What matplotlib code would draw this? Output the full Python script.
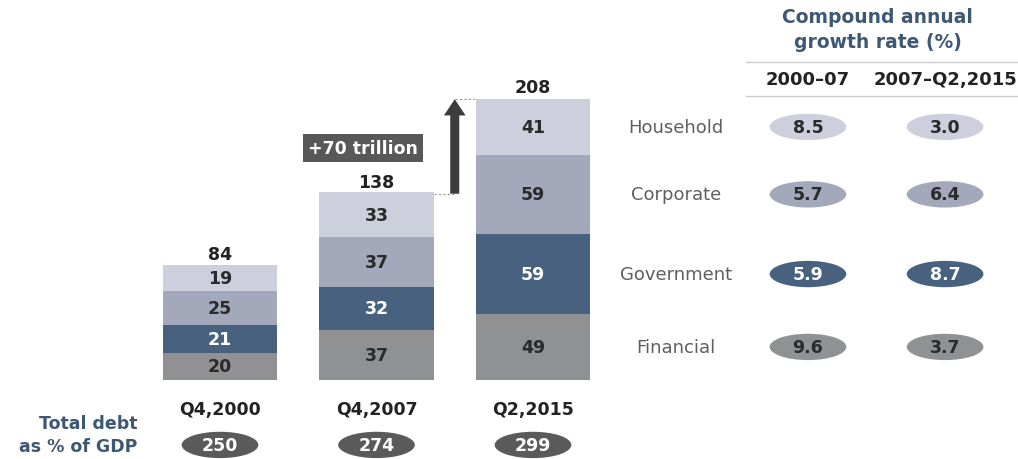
import matplotlib.pyplot as plt
from matplotlib.patches import Ellipse

plt.rcParams['font.family'] = ['DejaVu Sans']

# debt stock by sector, $ trillion
periods = ['Q4,2000', 'Q4,2007', 'Q2,2015']
sectors = ['Financial', 'Government', 'Corporate', 'Household']
financial = [20, 37, 49]
government = [21, 32, 59]
corporate = [25, 37, 59]
household = [19, 33, 41]
totals = [84, 138, 208]
debt_to_gdp = [250, 274, 299]

# compound annual growth rate (%), by sector
cagr_periods = ['2000\u201307', '2007\u2013Q2,2015']
cagr_household = [8.5, 3.0]
cagr_corporate = [5.7, 6.4]
cagr_government = [5.9, 8.7]
cagr_financial = [9.6, 3.7]

increase_label = '+70 trillion'

colors = {
    'Financial': '#8f9193',
    'Government': '#48617f',
    'Corporate': '#a3a9bb',
    'Household': '#cdd0dc',
}
text_colors = {
    'Financial': '#2a2a2a',
    'Government': 'white',
    'Corporate': '#2a2a2a',
    'Household': '#2a2a2a',
}
title_blue = '#3e5874'

fig = plt.figure(figsize=(10.18, 4.6), dpi=100)
ax = fig.add_axes([0, 0, 1, 1])
# one x unit = one bar slot (156.5 px), one y unit = 1.35 px
ax.set_xlim(-220 / 156.5, (1018 - 220) / 156.5)
ax.set_ylim(-79 / 1.35, 381 / 1.35)
ax.axis('off')

series = {'Financial': financial, 'Government': government,
          'Corporate': corporate, 'Household': household}
x = list(range(len(periods)))
bar_w = 0.73
bottoms = [0] * len(periods)
seg_centers = {}
for s in sectors:
    vals = series[s]
    ax.bar(x, vals, bottom=bottoms, width=bar_w, color=colors[s], linewidth=0)
    for i, v in enumerate(vals):
        ax.text(i, bottoms[i] + v / 2, str(v), ha='center', va='center',
                fontsize=12.5, fontweight='bold', color=text_colors[s])
    seg_centers[s] = bottoms[-1] + vals[-1] / 2
    bottoms = [b + v for b, v in zip(bottoms, vals)]

for i, t in enumerate(totals):
    ax.text(i, t + 9, str(t), ha='center', va='center', fontsize=12.5,
            fontweight='bold', color='#222222')

# increase arrow between the last two bars
ax_x = 1.5
ax.plot([1 + bar_w / 2, ax_x], [totals[1], totals[1]], color='#999999',
        lw=0.8, ls=(0, (2, 2)))
ax.plot([ax_x, 2 - bar_w / 2], [totals[2], totals[2]], color='#999999',
        lw=0.8, ls=(0, (2, 2)))
ax.annotate('', xy=(ax_x, totals[2]), xytext=(ax_x, totals[1]),
            arrowprops=dict(arrowstyle='simple,head_length=0.9,head_width=1.2,tail_width=0.5',
                            mutation_scale=13, color='#3c3c3c', lw=0,
                            shrinkA=0, shrinkB=0))
ax.text(0.914, 172.0, increase_label, ha='center', va='center', fontsize=12.5,
        fontweight='bold', color='white',
        bbox=dict(boxstyle='square,pad=0.3', fc='#585858', ec='none'))

# period labels and debt-to-GDP pills
for i, p in enumerate(periods):
    ax.text(i, -21.5, p, ha='center', va='center', fontsize=12.5,
            fontweight='bold', color='#222222')
    ax.add_patch(Ellipse((i, -48.1), 0.49, 19.5, fc='#5a5a5a', ec='none'))
    ax.text(i, -48.1, str(debt_to_gdp[i]), ha='center', va='center',
            fontsize=12.5, fontweight='bold', color='white')
ax.text(-0.53, -31.9, 'Total debt', ha='right', va='center', fontsize=12.5,
        fontweight='bold', color=title_blue)
ax.text(-0.53, -48.9, 'as % of GDP', ha='right', va='center', fontsize=12.5,
        fontweight='bold', color=title_blue)

# growth-rate table on the right
col_x = [3.757, 4.633]
ax.text(4.204, 269.6, 'Compound annual', ha='center', va='center', fontsize=13.5,
        fontweight='bold', color=title_blue)
ax.text(4.204, 251.1, 'growth rate (%)', ha='center', va='center', fontsize=13.5,
        fontweight='bold', color=title_blue)
ax.plot([3.361, 5.099], [235.6, 235.6], color='#cccccc', lw=1)
ax.plot([3.361, 5.099], [210.4, 210.4], color='#cccccc', lw=1)
for cx, lab in zip(col_x, cagr_periods):
    ax.text(cx, 223, lab, ha='center', va='center', fontsize=13,
            fontweight='bold', color='#222222')

cagr = {'Household': cagr_household, 'Corporate': cagr_corporate,
        'Government': cagr_government, 'Financial': cagr_financial}
for s in sectors:
    y = seg_centers[s]
    ax.text(2.914, y, s, ha='center', va='center', fontsize=13,
            color='#5f5f5f')
    for cx, v in zip(col_x, cagr[s]):
        ax.add_patch(Ellipse((cx, y), 0.49, 19.5, fc=colors[s], ec='none'))
        ax.text(cx, y, f'{v:.1f}', ha='center', va='center', fontsize=12.5,
                fontweight='bold', color=text_colors[s])

fig.savefig('out.png', dpi=100)
